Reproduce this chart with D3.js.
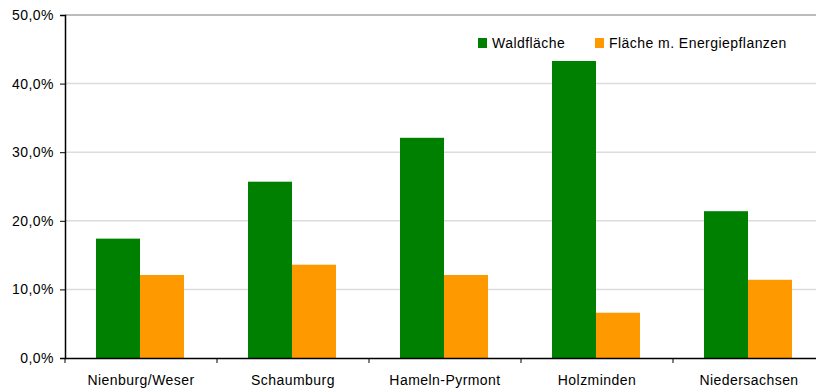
<!DOCTYPE html>
<html>
<head>
<meta charset="utf-8">
<script src="https://cdn.jsdelivr.net/npm/d3@7"></script>
<style>
  body { margin: 0; background: #fff; }
  svg { display: block; font-family: "Liberation Sans", Arial, sans-serif; }
</style>
</head>
<body>
<div id="chart"></div>
<script>
const categories = ["Nienburg/Weser", "Schaumburg", "Hameln-Pyrmont", "Holzminden", "Niedersachsen"];
const seriesNames = ["Waldfläche", "Fläche m. Energiepflanzen"];
const waldflaeche = [17.4, 25.7, 32.1, 43.3, 21.4];
const energiepflanzen = [12.1, 13.6, 12.1, 6.6, 11.4];
const yTicks = [0, 10, 20, 30, 40, 50];
const colors = ["#008000", "#ff9900"];

const width = 816, height = 389;
const margin = { top: 15, right: -9, bottom: 31, left: 65 };

const svg = d3.select("#chart")
  .append("svg")
  .attr("width", width)
  .attr("height", height);

const x0 = d3.scaleBand()
  .domain(categories)
  .range([margin.left, width - margin.right]);

const x1 = d3.scaleBand()
  .domain(seriesNames)
  .range([31, 119]);

const y = d3.scaleLinear()
  .domain([0, 50])
  .range([height - margin.bottom, margin.top]);

const fmt = v => d3.format(".1f")(v).replace(".", ",") + "%";

// grid
svg.append("g")
  .selectAll("line")
  .data(yTicks.slice(1, -1))
  .enter()
  .append("line")
  .attr("x1", margin.left)
  .attr("x2", width)
  .attr("y1", d => y(d))
  .attr("y2", d => y(d))
  .attr("stroke", "#dcdcdc")
  .attr("stroke-width", 1.5);

// top border
svg.append("line")
  .attr("x1", margin.left)
  .attr("x2", width)
  .attr("y1", y(50))
  .attr("y2", y(50))
  .attr("stroke", "#a6a6a6")
  .attr("stroke-width", 1.5);

// bars
const rows = categories.map((c, i) => ({ cat: c, vals: [waldflaeche[i], energiepflanzen[i]] }));

const groups = svg.append("g")
  .selectAll("g")
  .data(rows)
  .enter()
  .append("g")
  .attr("transform", d => `translate(${x0(d.cat)},0)`);

groups.selectAll("rect")
  .data(d => d.vals.map((v, j) => ({ s: seriesNames[j], v, j })))
  .enter()
  .append("rect")
  .attr("x", d => x1(d.s))
  .attr("width", x1.bandwidth())
  .attr("y", d => y(d.v))
  .attr("height", d => y(0) - y(d.v))
  .attr("fill", d => colors[d.j]);

const styleText = sel => sel
  .attr("font-size", 14)
  .attr("letter-spacing", "0.45px")
  .attr("fill", "#000")
  .attr("font-family", "Liberation Sans, Arial, sans-serif");

// y axis
const yAxis = svg.append("g")
  .attr("transform", `translate(${margin.left},0)`)
  .call(d3.axisLeft(y).tickValues(yTicks).tickFormat(fmt).tickSize(5).tickPadding(6));
yAxis.select(".domain").attr("stroke", "#000").attr("stroke-width", 1.5);
yAxis.selectAll(".tick line").attr("stroke", "#000");
yAxis.selectAll("text").call(styleText);

// x axis
const xAxis = svg.append("g")
  .attr("transform", `translate(0,${y(0)})`)
  .call(d3.axisBottom(x0).tickSize(0).tickPadding(17));
xAxis.select(".domain").attr("stroke", "#000").attr("stroke-width", 1.5);
xAxis.selectAll("text").call(styleText);

// category separator ticks
svg.append("g")
  .selectAll("line")
  .data(categories)
  .enter()
  .append("line")
  .attr("x1", d => x0(d))
  .attr("x2", d => x0(d))
  .attr("y1", y(0))
  .attr("y2", y(0) + 5)
  .attr("stroke", "#000");

// legend
const legendX = [478, 595];
const legend = svg.append("g")
  .selectAll("g")
  .data(seriesNames)
  .enter()
  .append("g")
  .attr("transform", (d, i) => `translate(${legendX[i]},38)`);

legend.append("rect")
  .attr("width", 9)
  .attr("height", 10)
  .attr("fill", (d, i) => colors[i]);

legend.append("text")
  .attr("x", 14)
  .attr("y", 10)
  .call(styleText)
  .text(d => d);
</script>
</body>
</html>
